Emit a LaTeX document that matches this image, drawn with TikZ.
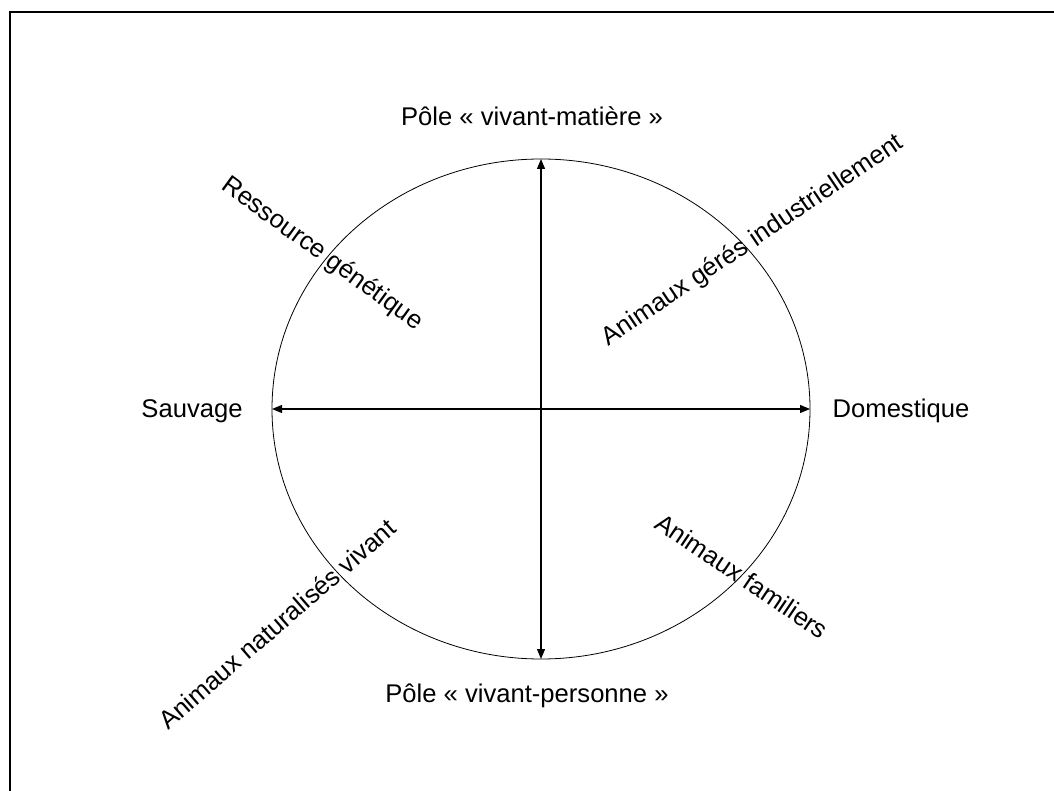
\documentclass[tikz,border=0pt]{standalone}
\usepackage{fontspec}
\setmainfont{Liberation Sans}
\usepackage{tikz}
\usetikzlibrary{arrows.meta,calc}
\tikzset{axe/.style={line width=1.2pt, {Triangle[length=10pt,width=8pt]}-{Triangle[length=10pt,width=8pt]}}}

\begin{document}
\begin{tikzpicture}[x=1pt, y=-1pt, every node/.style={font=\fontsize{25.6}{30}\selectfont, inner sep=0pt}]
      \useasboundingbox (0, 0) rectangle (1054, 791);
      \draw[line width=2pt] (10, 791) -- (10, 12) -- (1054, 12);

      \coordinate (centre) at (541, 409);
      \draw[line width=0.8pt] (centre) ellipse [x radius=269, y radius=250];
      \coordinate (haut) at (541, 159);
      \coordinate (bas) at (541, 659);
      \coordinate (gauche) at (272, 409);
      \coordinate (droite) at (810, 409);
      \draw[axe] (bas) -- (haut);
      \draw[axe] (gauche) -- (droite);

      \node (matiere) at (532, 116) {Pôle « vivant-matière »};
      \node (personne) at (527, 696) {Pôle « vivant-personne »};
      \node (sauvage) at (192, 411) {Sauvage};
      \node (domestique) at (901, 411) {Domestique};

      \node[rotate=-36] (ressource) at (322, 254) {Ressource génétique};
      \node[rotate=34] (industriel) at (753, 241) {Animaux gérés industriellement};
      \node[rotate=41] (naturalises) at (277, 624) {Animaux naturalisés vivant};
      \node[rotate=-34] (familiers) at (742, 576) {Animaux familiers};

    \end{tikzpicture}
\end{document}
